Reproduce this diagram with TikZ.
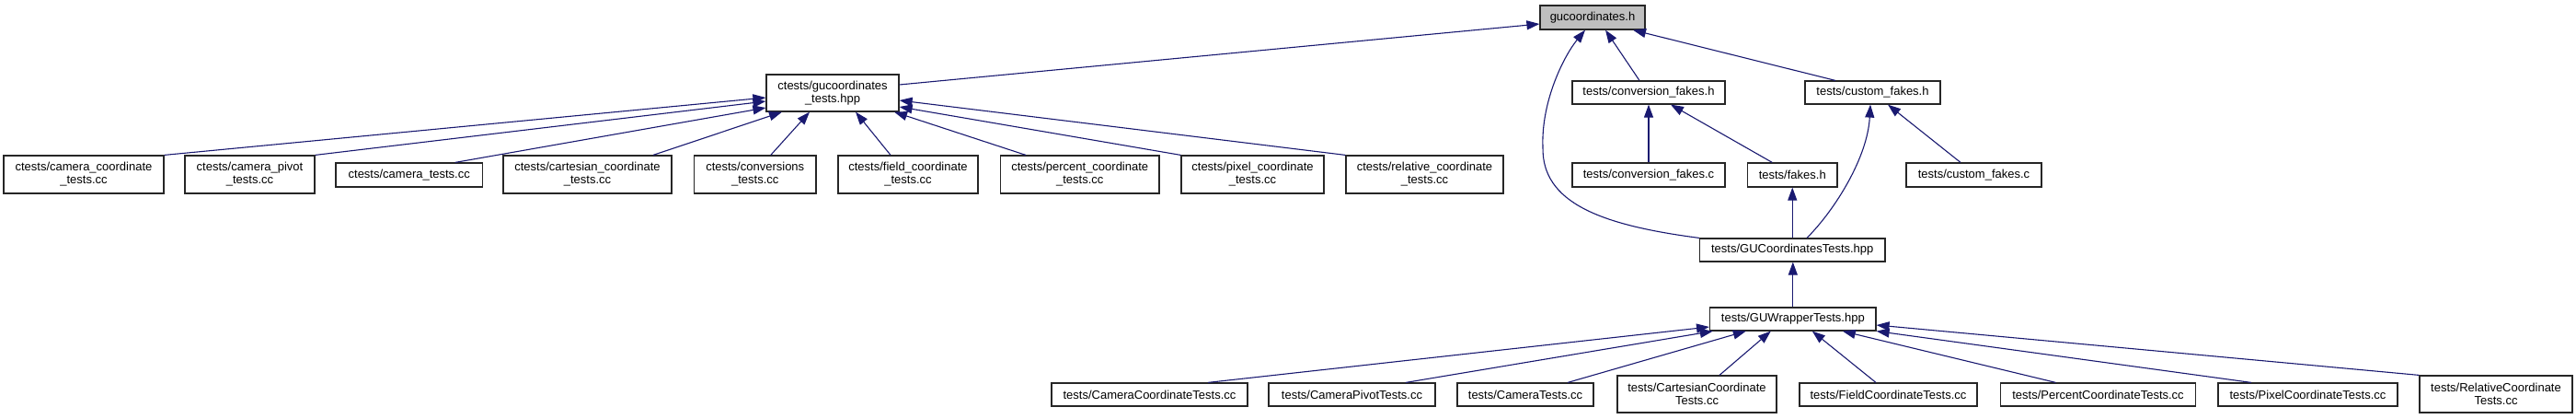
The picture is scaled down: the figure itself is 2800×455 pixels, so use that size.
\documentclass[tikz,border=0pt]{standalone}
\usepackage{fontspec}
\setmainfont{Liberation Sans}
\usetikzlibrary{arrows.meta}
\definecolor{edgec}{HTML}{191970}
\definecolor{rootfill}{HTML}{BFBFBF}
\begin{document}
\begin{tikzpicture}[x=1pt,y=-1pt,
  box/.style={draw=black!85, line width=1.2pt, fill=white, inner sep=0pt, align=center,
    font=\fontsize{13pt}{14pt}\selectfont},
  one/.style={box, minimum height=26pt},
  two/.style={box, minimum height=41pt},
  edge/.style={draw=edgec, line width=1.1pt, -{Triangle[length=14pt,width=10pt]}}]
\useasboundingbox (0,0) rectangle (2800,455);
% row 1
\node[one, fill=rootfill, minimum width=114pt] (gu) at (1731,19) {gucoordinates.h};
% row 2
\node[box, minimum height=40pt, minimum width=144pt] (gut) at (905,101) {ctests/gucoordinates\\\_tests.hpp};
\node[one, minimum height=25pt, minimum width=166pt] (cfh) at (1792,100.5) {tests/conversion\_fakes.h};
\node[one, minimum height=25pt, minimum width=147pt] (cuh) at (2035.5,100.5) {tests/custom\_fakes.h};
% row 3
\node[two, minimum width=174pt] (cc) at (91,189.5) {ctests/camera\_coordinate\\\_tests.cc};
\node[two, minimum width=141pt] (cp) at (271.5,189.5) {ctests/camera\_pivot\\\_tests.cc};
\node[one, minimum width=159.5pt] (ct) at (444.75,190) {ctests/camera\_tests.cc};
\node[two, minimum width=183pt] (ca) at (638.5,189.5) {ctests/cartesian\_coordinate\\\_tests.cc};
\node[two, minimum width=132.5pt] (co) at (820.75,189.5) {ctests/conversions\\\_tests.cc};
\node[two, minimum width=152pt] (fi) at (987,189.5) {ctests/field\_coordinate\\\_tests.cc};
\node[two, minimum width=172.5pt] (pe) at (1173.75,189.5) {ctests/percent\_coordinate\\\_tests.cc};
\node[two, minimum width=155pt] (px) at (1361.5,189.5) {ctests/pixel\_coordinate\\\_tests.cc};
\node[two, minimum width=171pt] (re) at (1548.5,189.5) {ctests/relative\_coordinate\\\_tests.cc};
\node[one, minimum width=166pt] (cfc) at (1792,190) {tests/conversion\_fakes.c};
\node[one, minimum width=97.5pt] (fk) at (1948.25,190) {tests/fakes.h};
\node[one, minimum width=147pt] (cuc) at (2145.5,190) {tests/custom\_fakes.c};
% row 4, 5
\node[one, minimum height=25pt, minimum width=201.5pt] (gct) at (1948.25,271.5) {tests/GUCoordinatesTests.hpp};
\node[one, minimum height=25pt, minimum width=180.4pt] (gwt) at (1948.8,346.5) {tests/GUWrapperTests.hpp};
% row 6
\node[one, minimum height=25pt, minimum width=213pt] (CC) at (1249.5,428.5) {tests/CameraCoordinateTests.cc};
\node[one, minimum height=25pt, minimum width=181pt] (CP) at (1469.5,428.5) {tests/CameraPivotTests.cc};
\node[one, minimum height=25pt, minimum width=148pt] (CT) at (1658,428.5) {tests/CameraTests.cc};
\node[two, minimum height=40pt, minimum width=173pt] (CA) at (1844.5,428) {tests/CartesianCoordinate\\Tests.cc};
\node[one, minimum height=25pt, minimum width=193pt] (FI) at (2052.5,428.5) {tests/FieldCoordinateTests.cc};
\node[one, minimum height=25pt, minimum width=212pt] (PE) at (2280.5,428.5) {tests/PercentCoordinateTests.cc};
\node[one, minimum height=25pt, minimum width=195pt] (PX) at (2508.5,428.5) {tests/PixelCoordinateTests.cc};
\node[two, minimum height=40pt, minimum width=166pt] (RE) at (2713,428) {tests/RelativeCoordinate\\Tests.cc};
\coordinate (bend) at (1677,160);
% edges into gucoordinates.h
\draw[edge] ([yshift=9pt]gut.east) -- ([yshift=-7pt]gu.west);
\draw[edge] ([xshift=-10pt]cfh.north) -- ([xshift=14pt]gu.south);
\draw[edge] ([xshift=-40.5pt]cuh.north) -- ([xshift=44pt]gu.south);
\draw[edge] (gct.north west) .. controls +(-107.5,-14) and +(-1,60) .. (bend)
  .. controls +(-2,-50) and +(-23,28) .. ([xshift=-8pt]gu.south);
% fakes
\draw[edge] (cfc.north) -- (cfh.south);
\draw[edge] ([xshift=-22pt]fk.north) -- ([xshift=24pt]cfh.south);
\draw[edge] ([xshift=-14.5pt]cuc.north) -- ([xshift=16.5pt]cuh.south);
\draw[edge] ([xshift=15.75pt]gct.north) .. controls +(31,-31) and +(-3,57) .. ([xshift=-2.5pt]cuh.south);
\draw[edge] (gct.north) -- (fk.south);
\draw[edge] (gwt.north) -- (gwt.north |- gct.south);
% ctests edges
\draw[edge] (cc.north east) -- ([yshift=-5pt]gut.west);
\draw[edge] (cp.north east) -- ([yshift=-9pt]gut.west);
\draw[edge] ([xshift=50pt]ct.north) -- ([yshift=-16pt]gut.west);
\draw[edge] ([xshift=71.5pt]ca.north) -- ([xshift=-55pt]gut.south);
\draw[edge] ([xshift=17pt]co.north) -- ([xshift=-25pt]gut.south);
\draw[edge] ([xshift=-19pt]fi.north) -- ([xshift=25pt]gut.south);
\draw[edge] ([xshift=-58.75pt]pe.north) -- ([xshift=67pt]gut.south);
\draw[edge] (px.north west) -- ([yshift=-15pt]gut.east);
\draw[edge] (re.north west) -- ([yshift=-8pt]gut.east);
% tests edges
\draw[edge] ([xshift=63.5pt]CC.north) -- ([yshift=-8.5pt]gwt.west);
\draw[edge] ([xshift=58.5pt]CP.north) -- ([xshift=-87pt]gwt.south);
\draw[edge] ([xshift=46pt]CT.north) -- ([xshift=-51pt]gwt.south);
\draw[edge] ([xshift=24.5pt]CA.north) -- ([xshift=-24pt]gwt.south);
\draw[edge] ([xshift=-13.5pt]FI.north) -- ([xshift=21pt]gwt.south);
\draw[edge] ([xshift=-46pt]PE.north) -- ([xshift=54pt]gwt.south);
\draw[edge] ([xshift=-61.5pt]PX.north) -- (gwt.south east);
\draw[edge] (RE.north west) -- ([yshift=-6.5pt]gwt.east);
\end{tikzpicture}
\end{document}
